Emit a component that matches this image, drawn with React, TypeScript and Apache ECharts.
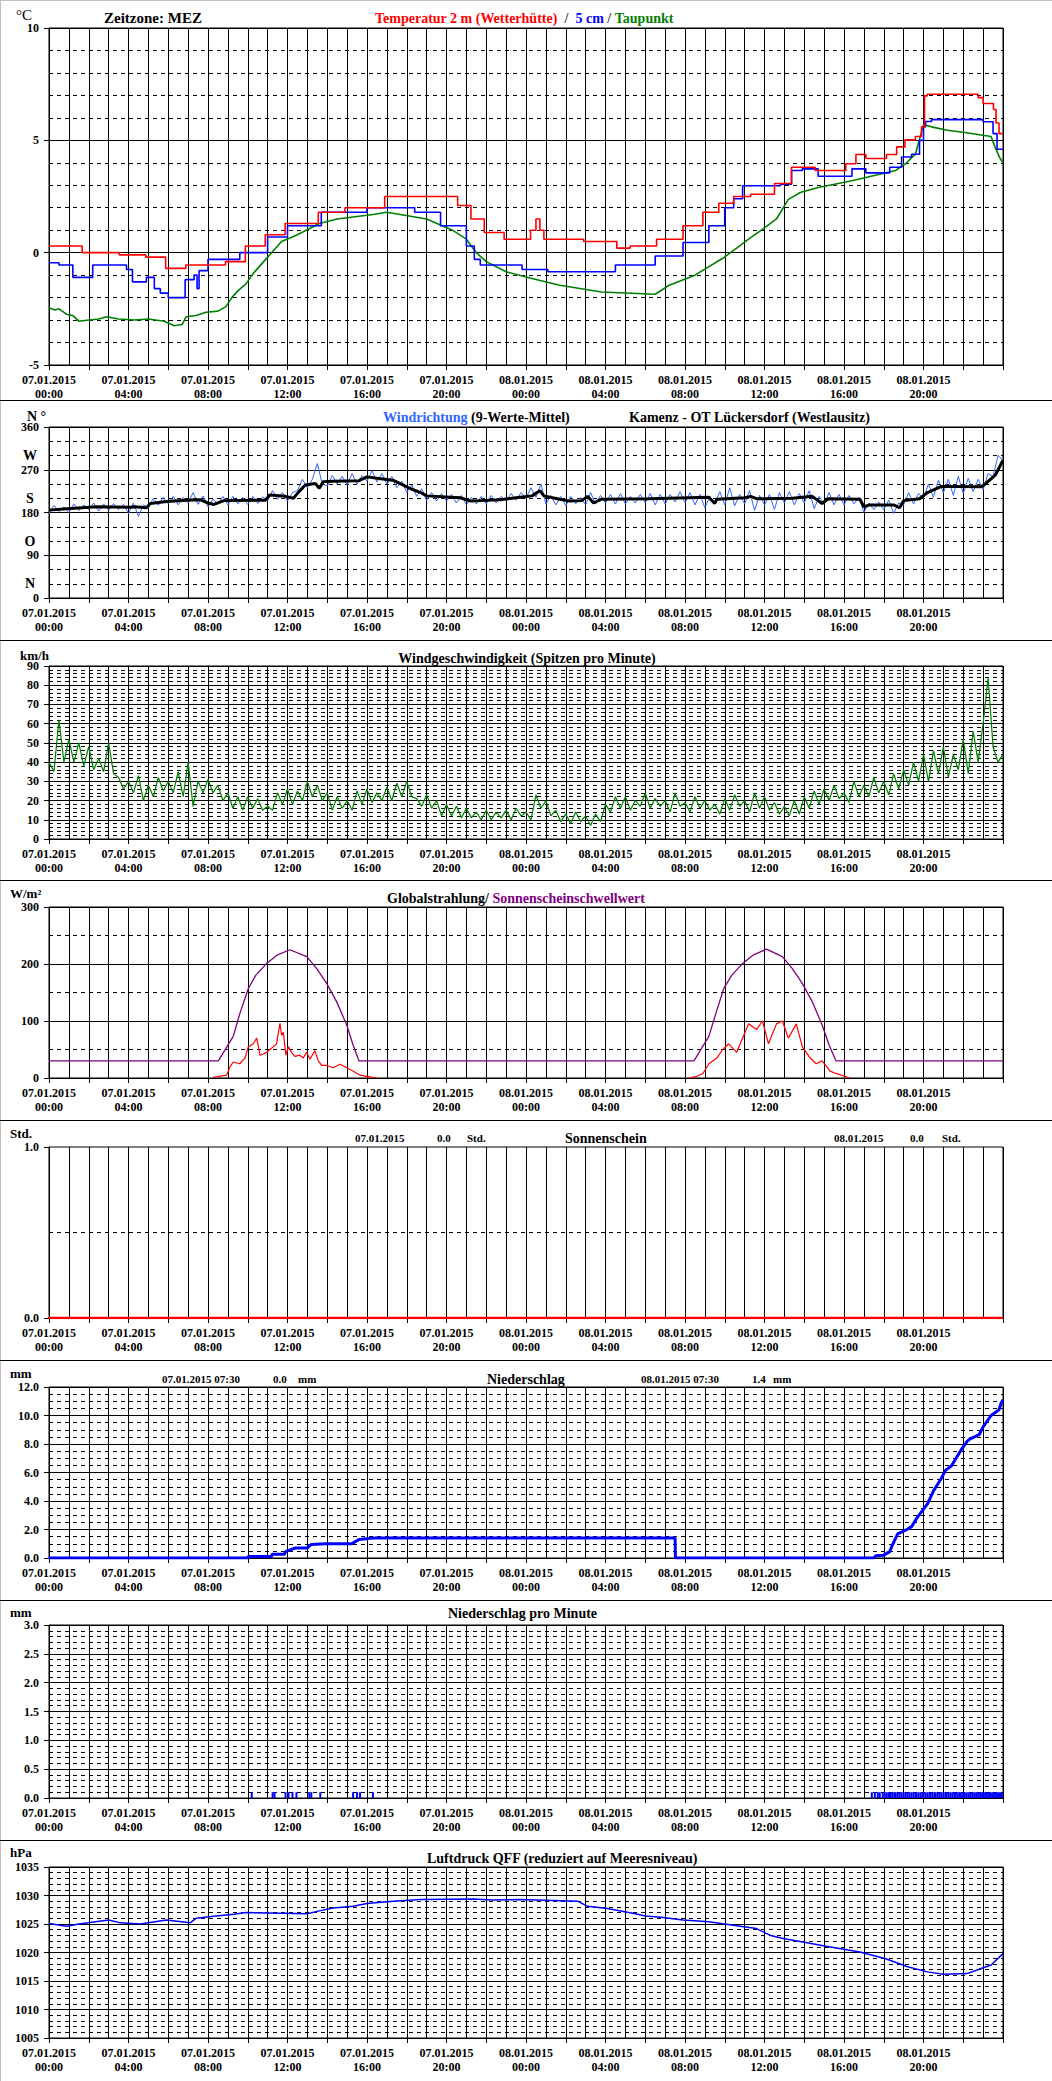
import React, { useEffect, useRef } from "react";
import * as echarts from "echarts";

// ---------- labels ----------
const DATE_LABELS = ["07.01.2015", "08.01.2015"];
const HOUR_LABELS = ["00:00", "04:00", "08:00", "12:00", "16:00", "20:00"];
const DIR_LETTERS: Record<number, string> = { 30: "N", 120: "O", 210: "S", 300: "W" };

// ---------- temperature (hour, °C), step changes ----------
const TEMP_AIR: number[][] = [
  [0, 0.3], [1.67, 0.0], [3.54, -0.1], [4.87, -0.2], [5.87, -0.7], [6.88, -0.55], [8.88, -0.4],
  [9.88, 0.3], [10.88, 0.8], [11.88, 1.3], [13.55, 1.8], [14.89, 2.0], [16.89, 2.5], [20.56, 2.1],
  [21.23, 1.5], [21.9, 0.9], [22.9, 0.6], [24.23, 1.0], [24.5, 1.5], [24.7, 1.0], [24.9, 0.6],
  [26.9, 0.5], [28.57, 0.2], [29.24, 0.3], [30.57, 0.6], [31.9, 1.2], [32.9, 1.8], [33.7, 2.2],
  [34.45, 2.5], [35.3, 2.6], [36.5, 3.08], [37.36, 3.8], [38.55, 3.66], [40.09, 3.96], [40.6, 4.37],
  [41.1, 4.19], [42.14, 4.37], [42.65, 4.71], [43.07, 5.02], [43.59, 5.17], [43.9, 5.6], [44.05, 6.98],
  [44.19, 7.05], [46.75, 6.9], [47.0, 6.64], [47.52, 6.37], [47.65, 5.77], [47.8, 5.3], [48, 5.3],
];
const TEMP_5CM: number[][] = [
  [0, -0.45], [0.5, -0.55], [1.2, -1.1], [2.2, -0.55], [3.9, -0.75], [4.2, -1.3], [4.9, -1.1],
  [5.3, -1.6], [5.6, -1.8], [6.0, -2.0], [6.85, -1.2], [7.3, -1.0], [7.45, -1.6], [7.55, -0.8],
  [8.0, -0.3], [9.6, 0.0], [11.0, 0.7], [12.0, 1.2], [13.7, 1.8], [16.0, 2.0], [18.4, 1.8],
  [19.7, 1.2], [21.0, 0.3], [21.4, -0.3], [21.7, -0.55], [23.8, -0.75], [25.1, -0.85], [28.5, -0.55],
  [30.5, -0.15], [31.9, 0.45], [33.2, 1.2], [34.0, 2.0], [34.45, 2.4], [34.9, 2.98], [36.8, 3.05],
  [37.36, 3.66], [37.9, 3.73], [38.7, 3.4], [40.4, 3.73], [41.1, 3.55], [42.3, 3.8], [42.9, 4.26],
  [43.4, 4.38], [43.8, 5.0], [44.0, 5.6], [44.1, 5.84], [44.4, 5.92], [47.0, 5.83], [47.5, 5.3],
  [47.7, 4.6], [48, 4.6],
];
const DEW_POINT: number[][] = [
  [0, -2.45], [0.3, -2.55], [0.5, -2.5], [0.9, -2.75], [1.2, -2.8], [1.5, -3.05], [2.0, -3.0],
  [2.5, -2.95], [2.9, -2.85], [3.5, -2.95], [4.3, -3.0], [5.0, -2.95], [5.8, -3.05], [6.3, -3.25],
  [6.7, -3.2], [6.9, -2.85], [7.4, -2.8], [7.9, -2.65], [8.5, -2.6], [8.9, -2.4], [9.2, -2.0],
  [9.5, -1.7], [9.9, -1.4], [10.3, -0.9], [10.8, -0.4], [11.3, 0.1], [11.7, 0.5], [12.5, 0.8],
  [13.6, 1.3], [14.5, 1.5], [16.3, 1.7], [17.0, 1.8], [19.0, 1.5], [20.3, 1.0], [21.0, 0.6],
  [21.5, 0.0], [22.0, -0.4], [23.0, -0.85], [24.3, -1.15], [25.7, -1.45], [27.8, -1.75],
  [30.5, -1.85], [31.2, -1.45], [32.5, -1.0], [33.9, -0.25], [34.6, 0.2], [35.2, 0.6], [36.0, 1.1],
  [36.6, 1.5], [37.2, 2.37], [37.8, 2.68], [38.7, 2.9], [40.4, 3.2], [42.6, 3.66], [43.1, 3.96],
  [43.6, 4.4], [44.0, 5.7], [44.4, 5.6], [45.2, 5.45], [46.0, 5.36], [47.4, 5.17], [47.6, 4.7],
  [47.85, 4.2], [48, 4.0],
];

// ---------- wind direction ----------
const WIND_DIR_MEAN: number[][] = [
  [0, 185], [0.9, 188], [2.4, 192], [4.1, 191], [4.3, 192], [4.9, 190], [5.1, 199], [5.9, 203],
  [6.9, 206], [7.6, 207], [8.0, 200], [8.3, 197], [8.8, 205], [10.9, 206], [11.1, 217], [11.9, 214],
  [12.3, 210], [12.6, 225], [12.9, 238], [13.4, 241], [13.6, 231], [13.8, 245], [14.3, 246],
  [15.6, 247], [16.0, 255], [16.5, 252], [17.3, 248], [17.8, 238], [18.2, 230], [18.7, 222],
  [19.0, 215], [20.7, 211], [21.2, 204], [21.7, 205], [22.7, 207], [23.7, 212], [24.3, 215],
  [24.7, 226], [24.9, 215], [25.7, 208], [26.2, 204], [26.8, 205], [27.1, 214], [27.4, 200],
  [27.8, 208], [30.2, 209], [32.2, 211], [33.2, 212], [33.5, 199], [33.6, 208], [35.0, 211],
  [35.3, 214], [35.6, 209], [37.4, 210], [38.4, 214], [38.9, 199], [39.2, 209], [40.8, 208],
  [41.0, 192], [41.3, 196], [42.5, 196], [42.8, 190], [43.0, 205], [43.8, 209], [44.2, 222],
  [44.9, 235], [46.9, 234], [47.1, 240], [47.6, 258], [48, 290],
];
// one value every 15 minutes from 07.01. 00:00
const WIND_DIR_RAW: number[] = [
  178, 195, 182, 192, 180, 198, 184, 196, 186, 200, 183, 198, 185, 199, 186, 197,
  178, 200, 172, 196, 190, 210, 195, 212, 198, 214, 196, 212, 200, 222, 197, 215,
  192, 208, 198, 214, 196, 214, 198, 212, 197, 214, 199, 213, 205, 226, 208, 222,
  204, 222, 226, 250, 232, 250, 283, 240, 236, 258, 240, 256, 238, 262, 240, 258,
  246, 268, 244, 262, 240, 256, 232, 246, 222, 238, 214, 230, 206, 222, 204, 220,
  204, 218, 200, 216, 196, 212, 198, 214, 198, 216, 200, 214, 204, 220, 206, 222,
  210, 232, 212, 240, 198, 216, 196, 214, 194, 214, 198, 212, 196, 222, 198, 216,
  200, 218, 198, 220, 198, 214, 200, 218, 200, 220, 196, 218, 198, 218, 202, 224,
  200, 222, 196, 218, 190, 214, 198, 224, 196, 232, 194, 218, 198, 226, 184, 216,
  196, 218, 186, 222, 200, 224, 196, 220, 200, 226, 188, 214, 198, 222, 196, 218,
  196, 216, 198, 212, 180, 200, 186, 202, 186, 206, 178, 200, 196, 222, 198, 220,
  210, 240, 212, 248, 222, 250, 216, 256, 220, 252, 224, 250, 228, 262, 256, 300,
  290,
];

// ---------- wind gusts, every 15 minutes (km/h) ----------
const WIND_GUST: number[] = [
  40, 35, 62, 40, 52, 40, 50, 38, 48, 36, 42, 35, 50, 34, 32, 26,
  30, 24, 33, 20, 28, 22, 32, 25, 30, 24, 35, 22, 40, 17, 30, 24,
  31, 24, 28, 20, 24, 16, 22, 15, 22, 16, 21, 15, 17, 15, 24, 18,
  26, 18, 25, 20, 30, 22, 28, 20, 24, 15, 22, 16, 20, 15, 25, 18,
  26, 19, 24, 20, 27, 20, 29, 22, 30, 22, 21, 17, 23, 16, 20, 12,
  18, 12, 17, 11, 16, 11, 14, 10, 15, 10, 14, 11, 15, 10, 16, 12,
  14, 10, 23, 16, 20, 12, 15, 9, 13, 8, 14, 9, 12, 7, 13, 9,
  18, 14, 22, 16, 22, 15, 20, 17, 24, 16, 21, 17, 20, 14, 24, 17,
  19, 14, 22, 16, 20, 15, 18, 13, 21, 15, 23, 17, 20, 14, 24, 16,
  22, 15, 19, 13, 17, 12, 20, 13, 22, 16, 25, 18, 26, 20, 28, 21,
  24, 19, 30, 22, 28, 22, 32, 24, 30, 23, 34, 26, 36, 28, 40, 30,
  44, 30, 46, 34, 48, 32, 44, 36, 52, 34, 56, 40, 60, 84, 48, 40,
  44,
];

// ---------- radiation (hour, W/m²) ----------
const SUN_THRESHOLD: number[][] = [
  [0, 30], [8.52, 30], [9.27, 73], [9.6, 113], [10.03, 157], [10.4, 180], [10.95, 201], [11.45, 215],
  [12.12, 225], [12.97, 213], [13.47, 192], [13.97, 166], [14.47, 134], [14.98, 93], [15.3, 58],
  [15.6, 30], [32.45, 30], [33.2, 73], [33.55, 113], [33.95, 157], [34.35, 180], [34.9, 201],
  [35.4, 215], [36.1, 226], [36.9, 213], [37.4, 192], [37.9, 166], [38.4, 134], [38.9, 93],
  [39.25, 58], [39.6, 30], [48, 30],
];
const GLOBAL_RAD_DAY1: number[][] = [
  [8.27, 1], [8.94, 5], [9.11, 20], [9.27, 28], [9.6, 25], [9.86, 35], [10.03, 55], [10.28, 60],
  [10.45, 70], [10.62, 40], [10.78, 42], [10.95, 45], [11.12, 50], [11.29, 55], [11.45, 60],
  [11.62, 96], [11.7, 75], [11.79, 80], [11.92, 40], [12.04, 55], [12.2, 45], [12.37, 38],
  [12.62, 40], [12.79, 35], [12.96, 45], [13.13, 33], [13.38, 48], [13.55, 30], [13.72, 22],
  [13.97, 22], [14.3, 18], [14.64, 24], [14.98, 18], [15.31, 12], [15.65, 5], [15.99, 3], [16.49, 0],
];
const GLOBAL_RAD_DAY2: number[][] = [
  [32.2, 0], [32.6, 3], [32.9, 8], [33.2, 25], [33.6, 35], [33.9, 50], [34.2, 60], [34.6, 45],
  [34.9, 70], [35.2, 95], [35.6, 85], [35.9, 100], [36.2, 60], [36.6, 95], [36.9, 100], [37.2, 70],
  [37.6, 95], [37.9, 55], [38.3, 35], [38.6, 25], [38.9, 30], [39.3, 12], [39.6, 8], [40.3, 0],
];

// ---------- sunshine (hours) ----------
const SUNSHINE: number[][] = [[0, 0], [48, 0]];

// ---------- precipitation ----------
const PRECIP_SUM: number[][] = [
  [0, 0], [10.0, 0], [10.02, 0.1], [11.2, 0.1], [11.22, 0.27], [11.85, 0.27], [11.9, 0.45],
  [12.2, 0.6], [12.4, 0.7], [13.0, 0.7], [13.1, 0.85], [13.2, 0.95], [13.9, 1.0], [15.25, 1.0],
  [15.35, 1.1], [15.6, 1.3], [16.3, 1.4], [31.5, 1.4], [31.52, 0], [41.5, 0], [41.6, 0.15],
  [42.0, 0.2], [42.3, 0.45], [42.4, 0.8], [42.7, 1.7], [43.1, 1.95], [43.4, 2.2], [43.7, 2.87],
  [44.2, 3.8], [44.5, 4.7], [44.9, 5.6], [45.1, 6.15], [45.4, 6.45], [45.9, 7.6], [46.2, 8.2],
  [46.4, 8.4], [46.8, 8.65], [47.0, 9.2], [47.4, 10.0], [47.8, 10.4], [47.9, 10.85], [48, 11.1],
];
const PRECIP_MINUTE_HOURS: number[] = [
  10.2, 11.25, 11.35, 11.9, 12.05, 12.25, 12.45, 13.1, 13.2, 13.65, 15.3, 15.5, 15.65, 16.3,
  41.4, 41.55, 41.7, 41.8, 41.95, 42.05, 42.15, 42.25, 42.3, 42.35, 42.45, 42.55, 42.6, 42.7,
  42.8, 42.9, 43.0, 43.1, 43.2, 43.3, 43.4, 43.5, 43.6, 43.65, 43.75, 43.85, 43.95, 44.0, 44.1,
  44.2, 44.3, 44.35, 44.45, 44.55, 44.6, 44.7, 44.8, 44.9, 45.0, 45.1, 45.15, 45.25, 45.35,
  45.45, 45.55, 45.6, 45.7, 45.8, 45.85, 45.95, 46.05, 46.15, 46.25, 46.35, 46.45, 46.55,
  46.65, 46.75, 46.85, 46.95, 47.0, 47.1, 47.2, 47.3, 47.35, 47.45, 47.55, 47.65, 47.75,
  47.85, 47.95,
];
const PRECIP_MINUTE_AMOUNT = 0.1;

// ---------- pressure (hour, hPa) ----------
const PRESSURE: number[][] = [
  [0, 1025.1], [0.9, 1024.6], [1.5, 1025.0], [3.0, 1025.7], [3.6, 1025.2], [4.6, 1025.0],
  [5.9, 1025.7], [7.1, 1025.2], [7.4, 1026.0], [8.4, 1026.4], [9.3, 1026.7], [9.9, 1027.0],
  [13.0, 1026.8], [13.6, 1027.3], [14.3, 1027.8], [15.3, 1028.1], [16.0, 1028.6], [17.0, 1028.9],
  [17.7, 1029.1], [18.7, 1029.3], [21.35, 1029.4], [22.3, 1029.2], [23.7, 1029.3], [26.6, 1029.0],
  [27.1, 1028.1], [28.1, 1027.7], [29.5, 1026.8], [30.0, 1026.4], [30.8, 1026.2], [31.9, 1025.7],
  [33.2, 1025.4], [34.6, 1024.7], [35.6, 1024.2], [36.3, 1023.0], [37.0, 1022.4], [38.0, 1021.8],
  [39.1, 1021.1], [40.8, 1020.1], [42.1, 1018.9], [43.2, 1017.5], [44.2, 1016.6], [45.0, 1016.2],
  [46.2, 1016.3], [46.9, 1017.2], [47.4, 1017.8], [48, 1019.8],
];

// ---------- layout ----------
const FONT = "'Liberation Serif', 'Times New Roman', serif";
const PLOT_LEFT = 49;
const PLOT_WIDTH = 954;
const PANELS = [
  { top: 28, height: 337 },
  { top: 427, height: 171 },
  { top: 666, height: 173 },
  { top: 907, height: 171 },
  { top: 1147, height: 171 },
  { top: 1387, height: 171 },
  { top: 1625, height: 173 },
  { top: 1867, height: 171 },
];
const SEPARATORS = [400, 640, 880, 1120, 1360, 1600, 1840];

const labelStyle = { color: "#000", fontFamily: FONT, fontWeight: "bold" as const, fontSize: 12 };

const xLabel = (v: number) => {
  if (v % 4 !== 0 || v >= 48) return "";
  return DATE_LABELS[Math.floor(v / 24)] + "\n" + HOUR_LABELS[(v % 24) / 4];
};

function makeXAxes(gi: number) {
  return [
    {
      gridIndex: gi, type: "value", min: 0, max: 48, interval: 1, position: "bottom",
      axisLine: { show: false }, axisTick: { show: false }, axisLabel: { show: false },
      splitLine: { show: true, lineStyle: { color: "#000", width: 1 } },
    },
    {
      gridIndex: gi, type: "value", min: 0, max: 48, interval: 2, position: "bottom",
      axisLine: { show: true, onZero: false, lineStyle: { color: "#000", width: 1 } },
      axisTick: { show: true, length: 5, lineStyle: { color: "#000" } },
      splitLine: { show: false },
      axisLabel: { ...labelStyle, margin: 8, lineHeight: 14, formatter: xLabel, showMaxLabel: true },
    },
  ];
}

function makeYAxis(gi: number, min: number, max: number, interval: number, minor: number,
  fmt: (v: number) => string, solid = true) {
  return {
    gridIndex: gi, type: "value", min, max, interval, position: "left",
    axisLine: { show: true, onZero: false, lineStyle: { color: "#000", width: 1 } },
    axisTick: { show: true, length: 5, lineStyle: { color: "#000" } },
    axisLabel: { ...labelStyle, margin: 10, formatter: fmt },
    splitLine: { show: solid, lineStyle: { color: "#000", width: 1 } },
    minorTick: { show: false, splitNumber: minor },
    minorSplitLine: { show: true, lineStyle: { color: "#000", width: 1, type: [4, 4] } },
  };
}

function txt(x: number, y: number, text: string, opts: any = {}) {
  const align = opts.align || "left";
  return {
    type: "text", x, y, silent: true,
    style: {
      text, fill: opts.color || "#000",
      font: `${opts.weight || "bold"} ${opts.size || 12}px ${FONT}`,
      textAlign: align, align, textVerticalAlign: "middle", verticalAlign: "middle",
      rich: opts.rich,
    },
  };
}

function richStyle(color: string, size = 14) {
  return { fill: color, color, font: `bold ${size}px ${FONT}`, fontSize: size, fontWeight: "bold", fontFamily: FONT };
}

function buildOption() {
  const xAxis: any[] = [];
  PANELS.forEach((_, i) => xAxis.push(...makeXAxes(i)));
  const yAxis: any[] = [
    makeYAxis(0, -5, 10, 5, 5, (v) => String(v)),
    makeYAxis(1, 0, 360, 90, 3, (v) => String(v)),
    {
      gridIndex: 1, type: "value", min: 0, max: 360, interval: 30, position: "left", offset: 0,
      axisLine: { show: false }, axisTick: { show: false }, splitLine: { show: false },
      axisLabel: { ...labelStyle, fontSize: 14, margin: 19, align: "center", formatter: (v: number) => DIR_LETTERS[v] || "" },
    },
    makeYAxis(2, 0, 90, 10, 5, (v) => String(v)),
    makeYAxis(3, 0, 300, 100, 2, (v) => String(v)),
    makeYAxis(4, 0, 1, 1, 2, (v) => v.toFixed(1), false),
    makeYAxis(5, 0, 12, 2, 4, (v) => v.toFixed(1)),
    makeYAxis(6, 0, 3, 0.5, 5, (v) => v.toFixed(1)),
    makeYAxis(7, 1005, 1035, 5, 5, (v) => String(v)),
  ];
  const grid = PANELS.map((p) => ({
    left: PLOT_LEFT, top: p.top, width: PLOT_WIDTH, height: p.height,
    show: true, borderColor: "#000", borderWidth: 1, backgroundColor: "#fff",
  }));

  const line = (name: string, xi: number, yi: number, data: any[], color: string, width: number, step?: any) => ({
    name, type: "line", xAxisIndex: xi, yAxisIndex: yi, data, step: step || false,
    symbol: "none", lineStyle: { color, width }, itemStyle: { color }, silent: true, clip: true,
  });

  const series: any[] = [
    line("Taupunkt", 0, 0, DEW_POINT, "#008000", 1.6),
    line("5 cm", 0, 0, TEMP_5CM, "#0000ff", 1.6, "end"),
    line("Temperatur 2 m", 0, 0, TEMP_AIR, "#ff0000", 1.6, "end"),
    line("Windrichtung", 2, 1, WIND_DIR_RAW.map((v, i) => [i * 0.25, v]), "#3366ff", 1),
    line("Windrichtung Mittel", 2, 1, WIND_DIR_MEAN, "#000000", 3),
    line("Windgeschwindigkeit", 4, 3, WIND_GUST.map((v, i) => [i * 0.25, v]), "#008000", 1.2),
    line("Sonnenscheinschwellwert", 6, 4, SUN_THRESHOLD, "#800080", 1.3),
    line("Globalstrahlung 1", 6, 4, GLOBAL_RAD_DAY1, "#ff0000", 1.2),
    line("Globalstrahlung 2", 6, 4, GLOBAL_RAD_DAY2, "#ff0000", 1.2),
    line("Sonnenschein", 8, 5, SUNSHINE, "#ff0000", 2.5),
    line("Niederschlag", 10, 6, PRECIP_SUM, "#0000ff", 3),
    {
      name: "Niederschlag pro Minute", type: "bar", xAxisIndex: 12, yAxisIndex: 7,
      data: PRECIP_MINUTE_HOURS.map((h) => [h, PRECIP_MINUTE_AMOUNT]),
      barWidth: 2, itemStyle: { color: "#0000ff" }, silent: true,
    },
    line("Luftdruck", 14, 8, PRESSURE, "#0000ff", 1.5),
  ];

  const graphic: any[] = [
    { type: "line", shape: { x1: 0, y1: 0.5, x2: 1052, y2: 0.5 }, style: { stroke: "#c0c0c0", lineWidth: 1 }, silent: true },
    { type: "line", shape: { x1: 0.5, y1: 0, x2: 0.5, y2: 2081 }, style: { stroke: "#c0c0c0", lineWidth: 1 }, silent: true },
    ...SEPARATORS.map((y) => ({
      type: "line", shape: { x1: 0, y1: y + 0.5, x2: 1052, y2: y + 0.5 }, style: { stroke: "#000", lineWidth: 1 }, silent: true,
    })),
    // panel 1
    txt(24, 15, "°C", { size: 15, weight: "normal", align: "center" }),
    txt(104, 18, "Zeitzone: MEZ", { size: 15 }),
    txt(375, 18, "{r|Temperatur 2 m (Wetterhütte)}{k|  /  }{b|5 cm}{k| / }{g|Taupunkt}", {
      size: 14, rich: { r: richStyle("#ff0000"), k: richStyle("#404040"), b: richStyle("#0000ff"), g: richStyle("#008000") },
    }),
    // panel 2
    txt(27, 416, "N °", { size: 14 }),
    txt(383, 417, "{b|Windrichtung}{k| (9-Werte-Mittel)}", {
      size: 14, rich: { b: richStyle("#3366ff"), k: richStyle("#000") },
    }),
    txt(629, 417, "Kamenz - OT Lückersdorf (Westlausitz)", { size: 14 }),
    // panel 3
    txt(20, 655, "km/h", { size: 13 }),
    txt(527, 658, "Windgeschwindigkeit (Spitzen pro Minute)", { size: 14, align: "center" }),
    // panel 4
    txt(10, 893, "W/m²", { size: 13 }),
    txt(387, 898, "{k|Globalstrahlung/ }{p|Sonnenscheinschwellwert}", {
      size: 14, rich: { k: richStyle("#000"), p: richStyle("#800080") },
    }),
    // panel 5
    txt(10, 1133, "Std.", { size: 13 }),
    txt(355, 1138, "07.01.2015", { size: 11 }),
    txt(437, 1138, "0.0", { size: 11 }),
    txt(467, 1138, "Std.", { size: 11 }),
    txt(565, 1138, "Sonnenschein", { size: 14 }),
    txt(834, 1138, "08.01.2015", { size: 11 }),
    txt(910, 1138, "0.0", { size: 11 }),
    txt(942, 1138, "Std.", { size: 11 }),
    // panel 6
    txt(10, 1373, "mm", { size: 13 }),
    txt(162, 1379, "07.01.2015 07:30", { size: 11 }),
    txt(273, 1379, "0.0", { size: 11 }),
    txt(298, 1379, "mm", { size: 11 }),
    txt(487, 1379, "Niederschlag", { size: 14 }),
    txt(641, 1379, "08.01.2015 07:30", { size: 11 }),
    txt(752, 1379, "1.4", { size: 11 }),
    txt(773, 1379, "mm", { size: 11 }),
    // panel 7
    txt(10, 1612, "mm", { size: 13 }),
    txt(448, 1613, "Niederschlag pro Minute", { size: 14 }),
    // panel 8
    txt(10, 1852, "hPa", { size: 13 }),
    txt(427, 1858, "Luftdruck QFF (reduziert auf Meeresniveau)", { size: 14 }),
  ];

  return { animation: false, backgroundColor: "#fff", grid, xAxis, yAxis, series, graphic };
}

export default function App() {
  const ref = useRef<HTMLDivElement>(null);
  useEffect(() => {
    if (!ref.current) return;
    const chart = echarts.init(ref.current, null, { renderer: "svg" });
    chart.setOption(buildOption() as any);
    return () => chart.dispose();
  }, []);
  return (
    <div
      ref={ref}
      style={{ position: "absolute", left: 0, top: 0, width: 1052, height: 2081, background: "#fff" }}
    />
  );
}
